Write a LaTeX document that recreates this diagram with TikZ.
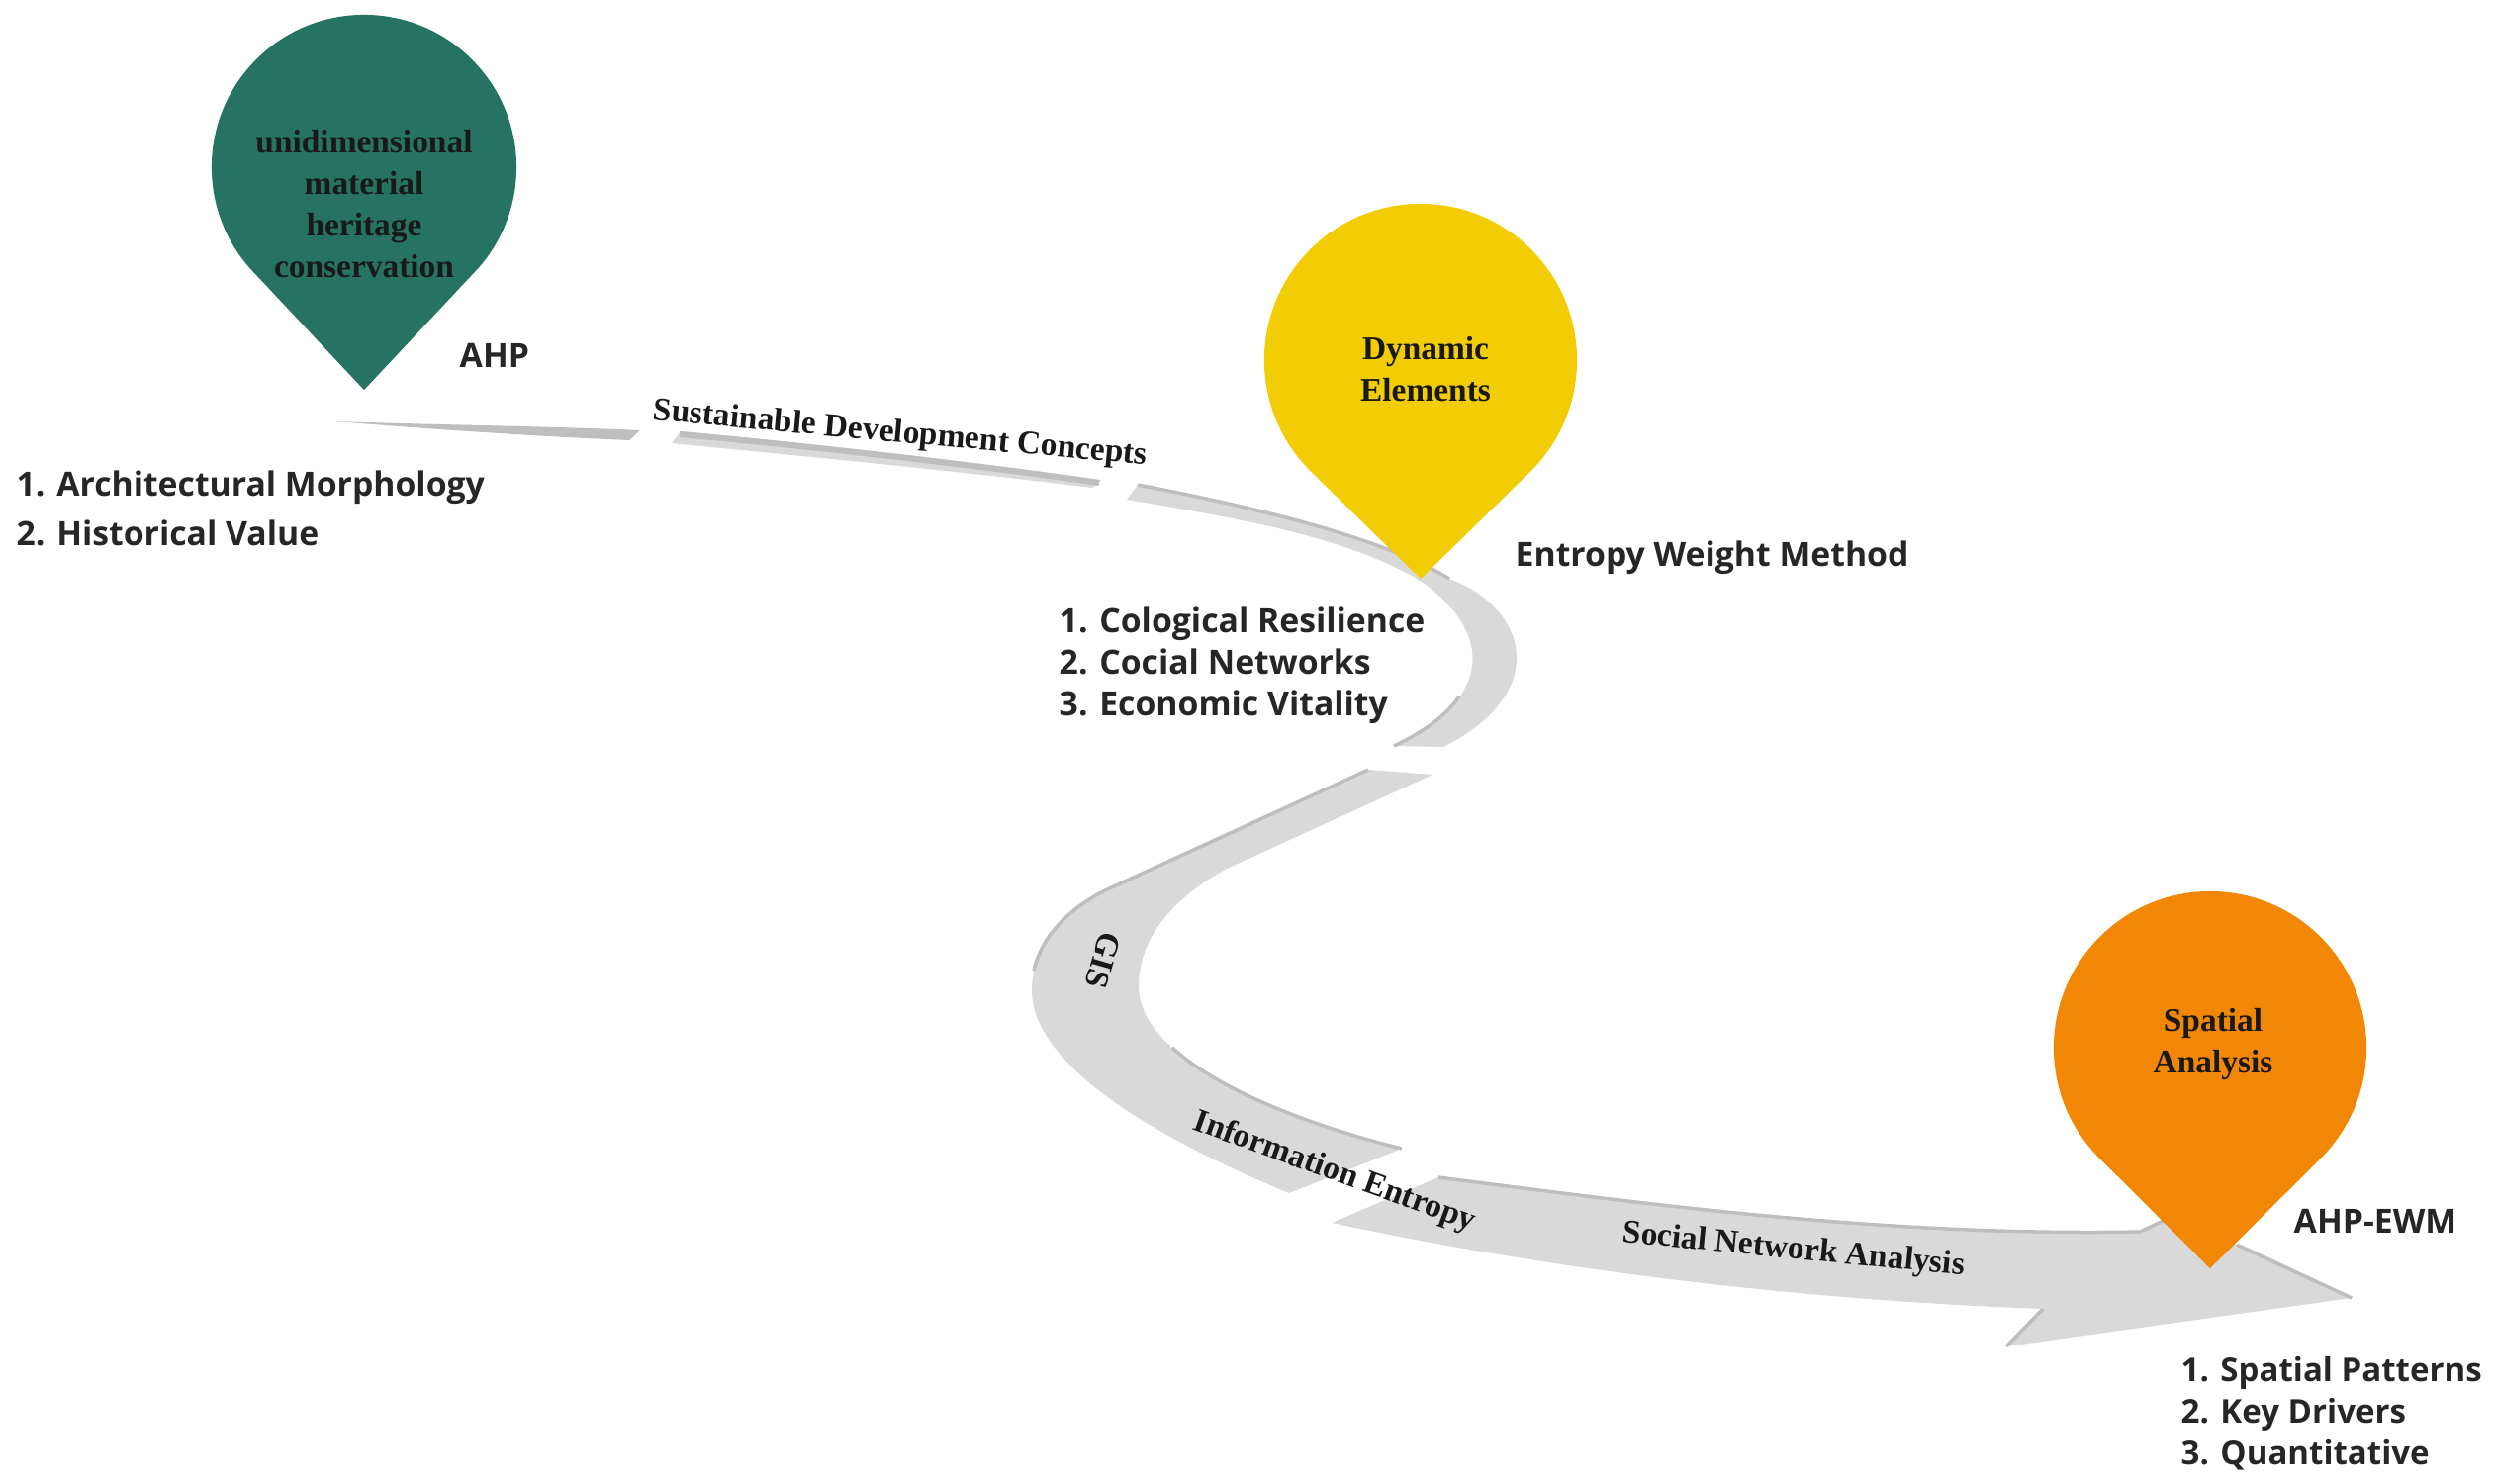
\documentclass[tikz,border=0pt]{standalone}
\usepackage{fontspec}
\setmainfont{Liberation Serif}
\newfontfamily\labelfont{Open Sans}
\usepackage{xcolor}
\definecolor{pingreen}{RGB}{37,115,96}
\definecolor{pinyellow}{RGB}{242,204,5}
\definecolor{pinorange}{RGB}{242,135,5}
\definecolor{ribbonlight}{RGB}{217,217,217}
\definecolor{ribbondark}{RGB}{190,190,190}
\definecolor{labelink}{RGB}{38,38,38}
\tikzset{
  ribbon/.style={fill=ribbonlight},
  ribbonedge/.style={draw=ribbondark, line width=0.035cm},
  pics/droppin/.style 2 args={code={
    \begin{scope}[x=1cm,y=1cm]
      \fill[pic actions] (0,-#2) -- (-45:#1) arc[start angle=-45, end angle=225, radius=#1] -- cycle;
    \end{scope}
  }},
  pintext/.style={align=center, font=\fontsize{9.5}{11.95}\selectfont\bfseries, text=black!90},
  pathtext/.style={font=\fontsize{9.5}{11.95}\selectfont\bfseries, text=black!90, inner sep=0pt},
  method/.style={anchor=west, inner sep=0pt, font=\labelfont\fontsize{9.6}{11.95}\selectfont\bfseries, text=labelink},
  steps/.style={method, align=left}
}
\begin{document}
\begin{tikzpicture}[x=0.01cm,y=-0.01cm]
  \useasboundingbox (0,0) rectangle (2522,1499);
  % ribbon pieces
  \fill[ribbondark] (338,426) .. controls (466,430) and (560,431) .. (647,435) -- (636,445) .. controls (540,441) and (440,434) .. (338,426) -- cycle;
  \fill[ribbon] (688,436) .. controls (800,446) and (980,466) .. (1113,485) -- (1104,493) .. controls (950,474) and (800,460) .. (679,448) -- cycle;
  \draw[ribbonedge, line width=0.06cm] (687,439) .. controls (800,449) and (980,469) .. (1111,488);
  \fill[ribbon] (1150,490) .. controls (1280,515) and (1400,545) .. (1465,585) .. controls (1545,615) and (1568,700) .. (1459,755) -- (1409,754) .. controls (1495,715) and (1520,650) .. (1440,590) .. controls (1370,545) and (1260,525) .. (1139,505) -- cycle;
  \draw[ribbonedge] (1150,490) .. controls (1280,515) and (1400,545) .. (1465,585);
  \draw[ribbonedge] (1409,754) .. controls (1439,740) and (1462,723) .. (1475,704);
  \fill[ribbon] (1383,778) -- (1115,901) .. controls (1060,930) and (1043,970) .. (1043,1001) .. controls (1043,1060) and (1120,1130) .. (1303,1206) -- (1417,1161) .. controls (1290,1130) and (1151,1070) .. (1151,997) .. controls (1151,945) and (1190,905) .. (1240,878) -- (1448,783) -- cycle;
  \draw[ribbonedge] (1383,778) -- (1115,901) .. controls (1071,924) and (1051,954) .. (1045,981);
  \draw[ribbonedge] (1417,1161) .. controls (1328,1139) and (1233,1103) .. (1185,1059);
  \fill[ribbon] (1346,1236) -- (1454,1190) .. controls (1650,1215) and (1900,1250) .. (2163,1245) -- (2191,1232) -- (2261,1258) -- (2377,1312) -- (2028,1361) -- (2065,1323) .. controls (1850,1315) and (1600,1290) .. (1346,1236) -- cycle;
  \draw[ribbonedge] (1454,1190) .. controls (1650,1215) and (1900,1250) .. (2163,1245) -- (2191,1232);
  \draw[ribbonedge] (2261,1258) -- (2377,1312);
  \draw[ribbonedge] (2028,1361) -- (2065,1323);
  % map pins
  \pic (greenpin) [fill=pingreen] at (368,169) {droppin={1.54}{2.25}};
  \pic (yellowpin) [fill=pinyellow] at (1436,364) {droppin={1.58}{2.21}};
  \pic (orangepin) [fill=pinorange] at (2234,1059) {droppin={1.58}{2.23}};
  \node[pintext] (material) at (368,206) {unidimensional\\material\\heritage\\conservation};
  \node[pintext] (dynamic) at (1441,373) {Dynamic\\Elements};
  \node[pintext] (spatial) at (2237,1055) {Spatial\\Analysis};
  % words lying on the ribbon
  \node[pathtext, rotate=-5.2] (concepts) at (910,439) {Sustainable Development Concepts};
  \node[pathtext, rotate=-106] (gis) at (1115,971) {GIS};
  \node[pathtext, rotate=-20] (entropy) at (1349,1185) {Information Entropy};
  \node[pathtext, rotate=-5.5] (network) at (1813,1264) {Social Network Analysis};
  % methods and their results
  \node[method] (ahp) at (464,359) {AHP};
  \node[method] (ewm) at (1531,564) {Entropy Weight Method};
  \node[method] (ahpewm) at (2318,1234) {AHP-EWM};
  \node[steps] (firststeps) at (16,514) {1. Architectural Morphology\\[0.08cm]2. Historical Value};
  \node[steps] (secondsteps) at (1070,673) {1. Cological Resilience\\2. Cocial Networks\\3. Economic Vitality};
  \node[steps, font=\labelfont\fontsize{9.4}{11.95}\selectfont\bfseries] (thirdsteps) at (2204,1429) {1. Spatial Patterns\\2. Key Drivers\\3. Quantitative};
\end{tikzpicture}
\end{document}
